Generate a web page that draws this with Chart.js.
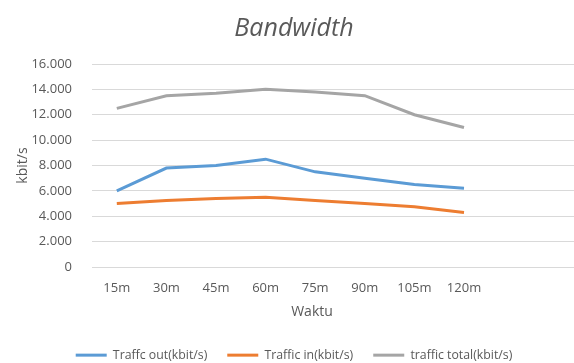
<!DOCTYPE html>
<html>
<head>
<meta charset="utf-8">
<script src="https://cdn.jsdelivr.net/npm/chart.js@4/dist/chart.umd.min.js"></script>
<style>
  html, body { margin: 0; padding: 0; background: #fff; overflow: hidden; }
  #wrap { width: 590px; height: 363px; }
</style>
</head>
<body>
<div id="wrap"><canvas id="bw"></canvas></div>
<script>
// data (kbit/s)
var waktu = ['15m', '30m', '45m', '60m', '75m', '90m', '105m', '120m', '', ''];
var trafficOut = [6000, 7800, 8000, 8500, 7500, 7000, 6500, 6200];
var trafficIn = [5000, 5250, 5400, 5500, 5250, 5000, 4750, 4300];
var trafficTotal = [12500, 13500, 13700, 14000, 13800, 13500, 12000, 11000];
var yTicks = [0, 2000, 4000, 6000, 8000, 10000, 12000, 14000, 16000];

var fontFam = "'Open Sans', 'Liberation Sans', sans-serif";
var grey = '#595959';

function serie(label, data, color) {
    return {
        label: label,
        data: data,
        borderColor: color,
        backgroundColor: color,
        borderWidth: 3,
        pointRadius: 0,
        tension: 0
    };
}

// x axis title sits a bit left of the plot center in the original
var waktuTitle = {
    id: 'waktuTitle',
    beforeLayout: function (chart) {
        // keep the wide item spacing but a shorter legend box
        var lg = chart.legend;
        if (lg && !lg._short) {
            var fit = lg.fit;
            lg.fit = function () { fit.call(this); this.height = 34; };
            lg._short = true;
        }
    },
    afterDraw: function (chart) {
        var c = chart.ctx;
        c.save();
        c.font = '14px ' + fontFam;
        c.fillStyle = grey;
        c.textAlign = 'center';
        c.textBaseline = 'middle';
        c.fillText('Waktu', 312, 312);
        c.restore();
    }
};

var ctx = document.getElementById('bw').getContext('2d');
var myChart = new Chart(ctx, {
    type: 'line',
    data: {
        labels: waktu,
        datasets: [
            serie('Traffc out(kbit/s)', trafficOut, '#5B9BD5'),
            serie('Traffic in(kbit/s)', trafficIn, '#ED7D31'),
            serie('traffic total(kbit/s)', trafficTotal, '#A5A5A5')
        ]
    },
    options: {
        responsive: true,
        maintainAspectRatio: false,
        animation: false,
        layout: { padding: { left: 0, right: 2, top: 0, bottom: 0 } },
        plugins: {
            title: {
                display: true,
                text: 'Bandwidth',
                color: grey,
                font: { family: fontFam, size: 25, style: 'italic', weight: 'normal' },
                padding: { top: 14, bottom: 20 }
            },
            legend: {
                position: 'bottom',
                labels: {
                    color: grey,
                    font: { family: fontFam, size: 12.3 },
                    boxWidth: 31,
                    boxHeight: 3,
                    padding: 20,
                    generateLabels: function (chart) {
                        var items = Chart.defaults.plugins.legend.labels.generateLabels(chart);
                        items.forEach(function (it) { it.lineWidth = 0; });
                        return items;
                    }
                }
            },
            tooltip: { enabled: false }
        },
        scales: {
            x: {
                offset: true,
                grid: { display: false },
                border: { display: false },
                ticks: { color: grey, font: { family: fontFam, size: 13 }, padding: 5, maxRotation: 0, autoSkip: false },
                afterFit: function (s) { s.height = 62; }
            },
            y: {
                min: 0,
                max: 16000,
                afterBuildTicks: function (s) { s.ticks = yTicks.map(function (v) { return { value: v }; }); },
                grid: { color: '#D9D9D9', drawTicks: false },
                border: { display: false },
                ticks: {
                    color: grey,
                    font: { family: fontFam, size: 13 },
                    padding: 20,
                    callback: function (v) { return v.toLocaleString('de-DE'); }
                },
                title: { display: true, text: 'kbit/s', color: grey, font: { family: fontFam, size: 14 }, padding: { top: 15, bottom: 0 } },
                afterFit: function (s) { s.width = 92; }
            }
        }
    },
    plugins: [waktuTitle]
});
</script>
</body>
</html>
